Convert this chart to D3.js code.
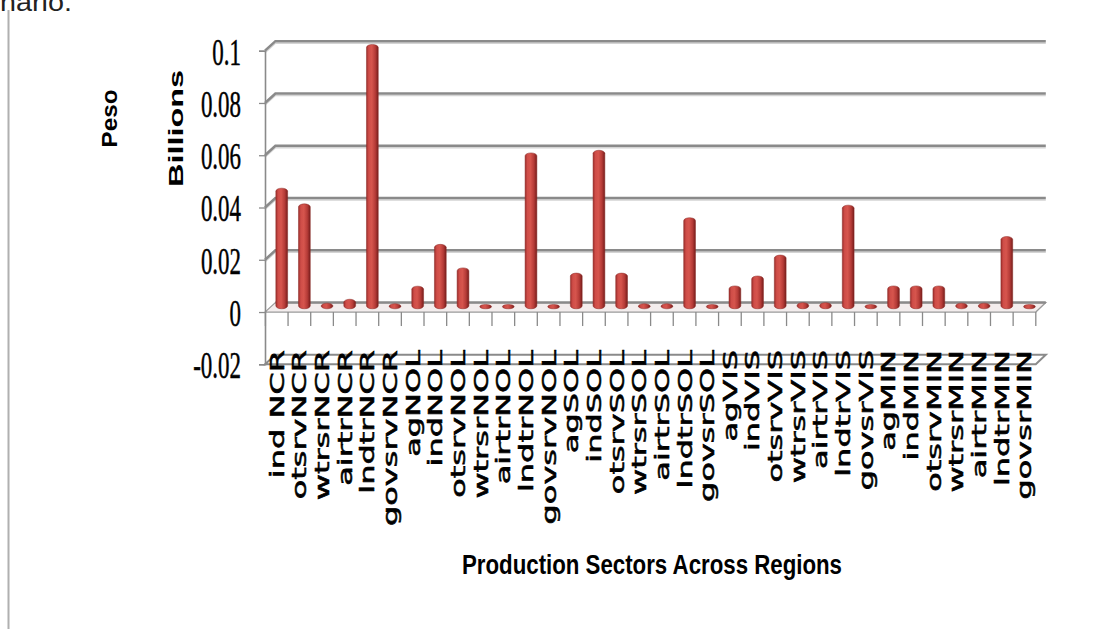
<!DOCTYPE html>
<html><head><meta charset="utf-8">
<script src="https://cdn.jsdelivr.net/npm/d3@7"></script>
<style>html,body{margin:0;padding:0;background:#fff;overflow:hidden}</style>
</head><body>
<svg id="chart" width="1096" height="629"></svg>
<script>
const categories = ["ind NCR","otsrvNCR","wtrsrNCR","airtrNCR","lndtrNCR","govsrvNCR",
  "agNOL","indNOL","otsrvNOL","wtrsrNOL","airtrNOL","lndtrNOL","govsrvNOL",
  "agSOL","indSOL","otsrvSOL","wtrsrSOL","airtrSOL","lndtrSOL","govsrSOL",
  "agVIS","indVIS","otsrvVIS","wtrsrVIS","airtrVIS","lndtrVIS","govsrVIS",
  "agMIN","indMIN","otsrvMIN","wtrsrMIN","airtrMIN","lndtrMIN","govsrMIN"];
const values = [0.045,0.039,0.001,0.0025,0.1,0.0008,
  0.0075,0.0235,0.0145,0.0005,0.0005,0.0585,0.0005,
  0.0125,0.0595,0.0125,0.0008,0.0008,0.0337,0.0005,
  0.0076,0.0114,0.0194,0.0012,0.0012,0.0385,0.0005,
  0.0076,0.0076,0.0076,0.001,0.001,0.0265,0.0005];
const yTickValues = [0.1,0.08,0.06,0.04,0.02,0,-0.02];
const yTickLabels = ["0.1","0.08","0.06","0.04","0.02","0","-0.02"];
const xTitle = "Production Sectors Across Regions";
const yTitle = "Peso";
const yUnit = "Billions";
const topFragment = "nario.";

const svg = d3.select("#chart");
const DX = 10, DY = -9.5;
const x = d3.scaleBand().domain(categories).range([265.4, 1035.8]);
const y = d3.scaleLinear().domain([-0.02, 0.1]).range([364.3, 50.7]);
const bw = x.bandwidth();
const x0 = x.range()[0], x1 = x.range()[1];

// page decorations
svg.append("line").attr("x1",8.5).attr("x2",8.5).attr("y1",10).attr("y2",629)
  .attr("stroke","#b0b0b0").attr("stroke-width",2);
svg.append("text").attr("x",0).attr("y",11).attr("font-family","Liberation Sans, Arial, sans-serif")
  .attr("font-size",26).attr("fill","#222").attr("textLength",72).attr("lengthAdjust","spacingAndGlyphs")
  .text(topFragment);

const defs = svg.append("defs");
const g1 = defs.append("linearGradient").attr("id","barGrad").attr("x1","0").attr("x2","1").attr("y1","0").attr("y2","0");
[[0,"#9e2e2b"],[0.2,"#cf4d48"],[0.45,"#d6554d"],[0.75,"#b53b37"],[1,"#761d1b"]].forEach(s=>
  g1.append("stop").attr("offset",s[0]).attr("stop-color",s[1]));

// gridlines on back wall
const grid = svg.append("g");
yTickValues.filter(v => v > 0).forEach(v => {
  const yf = y(v);
  grid.append("path").attr("d",`M${x0-0.4},${yf+2} L${x0+DX},${yf+DY+2} L${x1+DX},${yf+DY+2}`)
    .attr("fill","none").attr("stroke","#d4d4d4").attr("stroke-width",1.5);
  grid.append("path").attr("d",`M${x0-0.4},${yf} L${x0+DX},${yf+DY} L${x1+DX},${yf+DY}`)
    .attr("fill","none").attr("stroke","#8a8a8a").attr("stroke-width",2.5);
});

// floor at -0.02
const yb = y(-0.02);
svg.append("path").attr("d",`M${x0-0.4},${yb} L${x1},${yb} L${x1+DX},${yb+DY} L${x0+DX},${yb+DY} Z`)
  .attr("fill","none").attr("stroke","#8a8a8a").attr("stroke-width",2);

// floor at 0
const yz = y(0);
svg.append("path").attr("d",`M${x0-0.4},${yz} L${x1},${yz} L${x1+DX},${yz+DY} L${x0+DX},${yz+DY} Z`)
  .attr("fill","#f3eded").attr("stroke","#9a9a9a").attr("stroke-width",1.2);
svg.append("path").attr("d",`M${x0+DX},${yz+DY} L${x1+DX},${yz+DY}`)
  .attr("stroke","#8a8a8a").attr("stroke-width",2.5);

// bars (mid depth)
const barW = bw * 0.52;
svg.append("g").selectAll("rect").data(categories).join("rect")
  .attr("x", c => x(c) + bw/2 + DX/2 - barW/2)
  .attr("y", (c,i) => y(values[i]) + DY/2 - 1.5)
  .attr("width", barW)
  .attr("height", (c,i) => y(0) - y(values[i]) + 3)
  .attr("rx", barW/2).attr("ry", 3)
  .attr("fill","url(#barGrad)")
  .attr("stroke","#8a2a27").attr("stroke-width",0.5);

// category boundary ticks
const ticks = svg.append("g");
d3.range(categories.length + 1).forEach(i => {
  const xx = x0 + i * bw;
  ticks.append("line").attr("x1",xx).attr("x2",xx).attr("y1",yz).attr("y2",yz+14)
    .attr("stroke","#8a8a8a").attr("stroke-width",1.3);
});

// y axis
const yAxis = svg.append("g").attr("transform",`translate(${x0-0.4},0)`)
  .call(d3.axisLeft(y).tickValues(yTickValues).tickSize(6).tickFormat((d,i) => yTickLabels[i]));
yAxis.select(".domain").attr("stroke","#8a8a8a").attr("stroke-width",1.6);
yAxis.selectAll(".tick line").attr("stroke","#8a8a8a").attr("stroke-width",1.3);
yAxis.selectAll(".tick text")
  .attr("x",0).attr("dy","0.36em")
  .attr("transform","translate(-24,0) scale(0.62,1)")
  .attr("font-family","Liberation Serif, Times New Roman, serif")
  .attr("font-size",37).attr("fill","#000")
  .attr("stroke","#000").attr("stroke-width",0.5);

// category labels
const xAxis = svg.append("g").attr("transform","translate(0,350)")
  .call(d3.axisBottom(x).tickSize(0));
xAxis.select(".domain").remove();
xAxis.selectAll(".tick text")
  .attr("x",0).attr("y",0).attr("dy","0.36em")
  .attr("text-anchor","end")
  .attr("transform","scale(0.6,1) rotate(-90)")
  .attr("font-family","DejaVu Sans, Verdana, sans-serif")
  .attr("font-size",32).attr("fill","#000")
  .attr("stroke","#000").attr("stroke-width",0.9);

// titles
svg.append("text").attr("transform","translate(117,118.5) rotate(-90)")
  .attr("text-anchor","middle").attr("font-family","Liberation Sans, Arial, sans-serif")
  .attr("font-weight","bold").attr("font-size",22)
  .attr("textLength",58).attr("lengthAdjust","spacingAndGlyphs").text(yTitle);
svg.append("text").attr("transform","translate(183,128.5) rotate(-90)")
  .attr("text-anchor","middle").attr("font-family","Liberation Sans, Arial, sans-serif")
  .attr("font-weight","bold").attr("font-size",21)
  .attr("textLength",117).attr("lengthAdjust","spacingAndGlyphs").text(yUnit);
svg.append("text").attr("x",652).attr("y",574)
  .attr("text-anchor","middle").attr("font-family","Liberation Sans, Arial, sans-serif")
  .attr("font-weight","bold").attr("font-size",27)
  .attr("textLength",380).attr("lengthAdjust","spacingAndGlyphs").text(xTitle);
</script></body></html>
